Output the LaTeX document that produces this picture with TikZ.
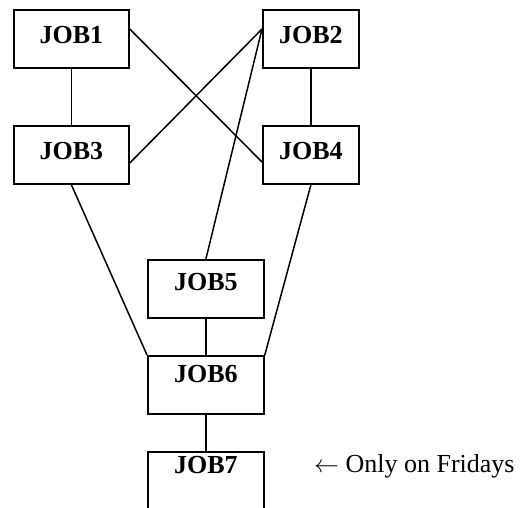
\documentclass[tikz,border=0pt]{standalone}
\usepackage{fontspec}
\setmainfont{Liberation Serif}
\usetikzlibrary{calc}
\begin{document}
\begin{tikzpicture}[x=1pt,y=-1pt,
  job/.style={draw,line width=1.8pt,inner sep=0pt,font=\fontsize{26}{30}\selectfont\bfseries,minimum height=58pt},
  wide/.style={minimum width=115pt},
  narrow/.style={minimum width=96pt},
  link/.style={line width=1.5pt}]
\useasboundingbox (0,0) rectangle (523,507);
\clip (0,0) rectangle (523,507);
\node[job,wide,text height=34pt,text depth=24pt,anchor=north west] (j1) at (13,9) {JOB1};
\node[job,narrow,text height=34pt,text depth=24pt,anchor=north west] (j2) at (262,9) {JOB2};
\node[job,wide,text height=34pt,text depth=24pt,anchor=north west] (j3) at (13,125) {JOB3};
\node[job,narrow,text height=34pt,text depth=24pt,anchor=north west] (j4) at (262,125) {JOB4};
\node[job,minimum width=116pt,text height=31pt,text depth=27pt,anchor=north west] (j5) at (147,259) {JOB5};
\node[job,minimum width=116pt,text height=27pt,text depth=31pt,anchor=north west] (j6) at (147,355) {JOB6};
\node[job,minimum width=116pt,text height=22pt,text depth=36pt,anchor=north west] (j7) at (147,451) {JOB7};
\node[anchor=base west,inner sep=0pt,font=\fontsize{26}{30}\selectfont] (note) at (314,472) {$\leftarrow$ Only on Fridays};
\draw[link] (j1.south) -- (j3.north);
\draw[link] (j2.south) -- (j4.north);
\draw[link] ($(j1.north east)+(0,20)$) -- ($(j4.north west)+(0,37)$);
\draw[link] ($(j2.north west)+(0,20)$) -- ($(j3.north east)+(0,38)$);
\draw[link] ($(j2.north west)+(0,20)$) -- (j5.north);
\draw[link] (j3.south) -- (j6.north west);
\draw[link] (j4.south) -- (j6.north east);
\draw[link] (j5.south) -- (j6.north);
\draw[link] (j6.south) -- (j7.north);
\end{tikzpicture}
\end{document}
